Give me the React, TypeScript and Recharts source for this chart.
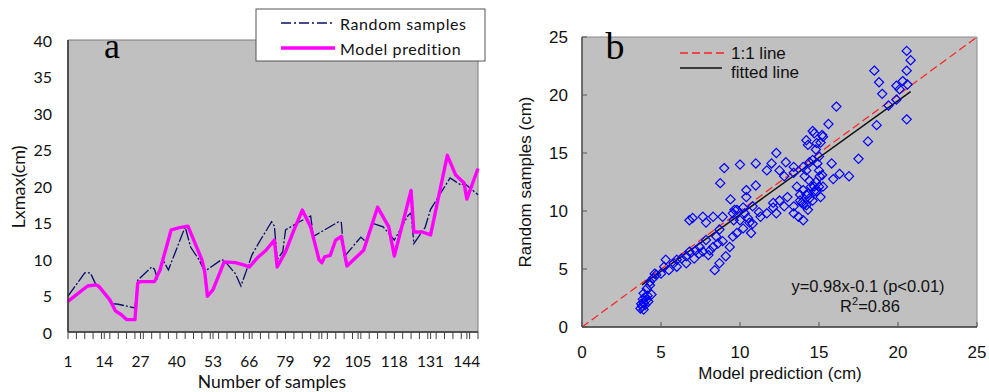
import React from "react"
import {
  LineChart,
  Line,
  XAxis,
  YAxis,
  CartesianGrid,
  ReferenceArea,
  ReferenceLine,
  ScatterChart,
  Scatter,
} from "recharts"

// ---- panel a: Lxmax per sample ----
const randomSamples = [
  { n: 1, v: 4.9 }, { n: 7, v: 8.1 }, { n: 9, v: 8.1 }, { n: 11, v: 6.5 },
  { n: 17, v: 3.9 }, { n: 19, v: 3.8 }, { n: 25, v: 3.3 }, { n: 26, v: 7.1 },
  { n: 31, v: 8.9 }, { n: 32, v: 8.6 }, { n: 33, v: 7.4 }, { n: 35, v: 9.9 },
  { n: 37, v: 8.5 }, { n: 43, v: 14.4 }, { n: 45, v: 11.6 }, { n: 48, v: 9.9 },
  { n: 50, v: 8.3 }, { n: 56, v: 9.9 }, { n: 57, v: 9.8 }, { n: 61, v: 8.0 },
  { n: 63, v: 6.3 }, { n: 67, v: 10.6 }, { n: 70, v: 12.6 }, { n: 74, v: 15.1 },
  { n: 75, v: 14.5 }, { n: 76, v: 9.9 }, { n: 78, v: 11.0 }, { n: 79, v: 14.0 },
  { n: 84, v: 15.1 }, { n: 88, v: 15.9 }, { n: 89, v: 13.1 }, { n: 98, v: 15.1 },
  { n: 99, v: 15.0 }, { n: 100, v: 10.3 }, { n: 106, v: 13.0 }, { n: 108, v: 12.3 },
  { n: 110, v: 14.9 }, { n: 114, v: 14.4 }, { n: 118, v: 12.6 }, { n: 123, v: 16.0 },
  { n: 124, v: 16.3 }, { n: 125, v: 12.1 }, { n: 129, v: 14.3 }, { n: 131, v: 16.8 },
  { n: 138, v: 21.1 }, { n: 140, v: 20.6 }, { n: 142, v: 20.1 }, { n: 143, v: 20.4 },
  { n: 148, v: 18.8 },
]

const modelPrediction = [
  { n: 1, v: 4.2 }, { n: 8, v: 6.3 }, { n: 11, v: 6.45 }, { n: 12, v: 6.3 },
  { n: 16, v: 4.4 }, { n: 18, v: 2.9 }, { n: 20, v: 2.4 }, { n: 22, v: 1.7 },
  { n: 25, v: 1.7 }, { n: 26, v: 6.7 }, { n: 27, v: 6.9 }, { n: 32, v: 6.9 },
  { n: 34, v: 8.5 }, { n: 38, v: 14.0 }, { n: 41, v: 14.3 }, { n: 44, v: 14.5 },
  { n: 49, v: 9.9 }, { n: 50, v: 8.3 }, { n: 51, v: 4.9 }, { n: 53, v: 5.8 },
  { n: 57, v: 9.6 }, { n: 61, v: 9.5 }, { n: 64, v: 9.2 }, { n: 66, v: 8.9 },
  { n: 69, v: 10.2 }, { n: 72, v: 11.2 }, { n: 75, v: 12.6 }, { n: 76, v: 8.9 },
  { n: 79, v: 11.0 }, { n: 82, v: 13.95 }, { n: 85, v: 16.7 }, { n: 88, v: 14.4 },
  { n: 91, v: 9.9 }, { n: 92, v: 9.5 }, { n: 93, v: 10.3 }, { n: 95, v: 10.5 },
  { n: 97, v: 12.6 }, { n: 99, v: 13.1 }, { n: 101, v: 9.05 }, { n: 107, v: 11.2 },
  { n: 112, v: 17.1 }, { n: 116, v: 14.4 }, { n: 118, v: 10.4 }, { n: 124, v: 19.4 },
  { n: 125, v: 13.7 }, { n: 128, v: 13.7 }, { n: 131, v: 13.3 }, { n: 137, v: 24.2 },
  { n: 140, v: 21.5 }, { n: 143, v: 20.4 }, { n: 144, v: 18.2 }, { n: 148, v: 22.4 },
]

const sampleLabels = [1, 14, 27, 40, 53, 66, 79, 92, 105, 118, 131, 144]
const lxTicks = [0, 5, 10, 15, 20, 25, 30, 35, 40]
const minorTicks = Array.from({ length: 50 }, (_, i) => 1 + i * 3)
const sampleTicks = Array.from(new Set([...minorTicks, ...sampleLabels])).sort((a, b) => a - b)

// ---- panel b: model prediction (x) vs random samples (y) ----
const scatterPoints = [
  [3.7, 1.6], [3.8, 1.8], [3.9, 1.5], [3.75, 2.0], [3.9, 2.1], [4.0, 1.9], [3.85, 2.4],
  [4.05, 2.3], [4.2, 2.2], [4.0, 2.6], [4.15, 2.7], [4.4, 2.8], [3.9, 2.9], [4.1, 3.3],
  [4.3, 3.6], [4.3, 3.9], [4.5, 4.2], [4.6, 4.6], [4.7, 4.5],
  [5.2, 5.2], [5.3, 5.8], [5.5, 4.9], [5.8, 5.5], [6.0, 5.2], [6.3, 5.9], [6.6, 5.5],
  [6.6, 6.1], [6.8, 6.5], [7.1, 5.9], [5.0, 4.6], [6.0, 5.8],
  [6.8, 9.2], [7.0, 9.4], [7.65, 9.5], [7.85, 9.0], [8.3, 9.5], [8.9, 9.5], [7.2, 6.6],
  [7.45, 6.9], [7.65, 6.5], [8.1, 6.6], [8.3, 6.9], [8.6, 7.2], [7.85, 7.5], [8.5, 7.8],
  [8.9, 7.4], [9.35, 6.9], [9.1, 6.1], [8.7, 5.5], [8.4, 4.9], [8.7, 8.4], [8.0, 6.2],
  [7.4, 6.3],
  [9.55, 9.8], [9.65, 10.1], [10.0, 9.2], [10.3, 9.8], [10.8, 10.4], [11.2, 9.9],
  [9.55, 7.8], [9.8, 8.1], [10.2, 8.5], [10.5, 9.4], [10.8, 8.9], [10.7, 8.1], [10.6, 9.0],
  [9.6, 9.2], [9.8, 10.1], [10.2, 10.3], [10.4, 11.2], [10.4, 11.8], [9.4, 11.0],
  [8.75, 12.4], [11.0, 12.2], [9.0, 13.7], [10.0, 14.0], [11.0, 14.1], [11.3, 9.5],
  [11.7, 9.8],
  [12.3, 15.0], [12.0, 14.1], [12.9, 14.2], [12.5, 13.5], [12.8, 13.0], [11.7, 13.5],
  [13.4, 13.3], [13.4, 13.8], [12.1, 10.3], [12.3, 9.8], [12.5, 10.9], [13.0, 11.2],
  [12.1, 10.7], [12.8, 10.4], [13.4, 10.4], [13.4, 9.8], [13.7, 9.5], [13.8, 10.9],
  [13.6, 12.1], [13.8, 11.4], [13.9, 10.7],
  [14.2, 10.5], [14.4, 11.1], [14.7, 11.7], [15.0, 12.1], [14.0, 9.2], [14.3, 10.1],
  [14.0, 10.6], [14.6, 10.9], [14.2, 11.4], [14.85, 11.7], [15.25, 12.1], [14.4, 12.6],
  [14.1, 13.0], [15.05, 13.0], [14.0, 13.8], [14.4, 14.2], [14.9, 14.1], [14.2, 16.1],
  [14.85, 15.85], [15.25, 16.4], [14.6, 16.9], [14.7, 16.7], [15.1, 15.9], [14.3, 15.7],
  [14.8, 15.3], [15.0, 14.7], [14.6, 14.4], [14.2, 13.5], [15.0, 13.5], [14.8, 12.5],
  [15.2, 13.1], [15.1, 11.2], [14.5, 12.1], [14.3, 11.5], [14.0, 11.8], [14.7, 12.1],
  [15.6, 17.5], [15.2, 16.55], [15.8, 14.1], [17.5, 14.5], [16.9, 13.0], [16.3, 13.2],
  [15.9, 12.75], [16.1, 19.0], [18.1, 16.0], [18.65, 17.4], [20.55, 17.9], [19.4, 19.1],
  [19.9, 19.6], [19.9, 20.8], [20.3, 21.2], [19.0, 20.1], [18.8, 21.1], [18.5, 22.1],
  [20.55, 22.1], [20.8, 23.0], [20.55, 23.8], [20.1, 20.5], [20.6, 20.9],
].map(([x, y]) => ({ x, y }))

const cmTicks = [0, 5, 10, 15, 20, 25]
const fitSlope = 0.98
const fitIntercept = -0.1
const fitRange = [3.8, 20.8]
const fittedLine = fitRange.map((x) => ({ x, y: fitSlope * x + fitIntercept }))
const oneToOne = [{ x: 0, y: 0 }, { x: 25, y: 25 }]

const calibri = "Lato, 'Open Sans', sans-serif"
const arial = "'Liberation Sans', Arial, sans-serif"
const times = "'Liberation Serif', 'Times New Roman', serif"

const SampleTick = ({ x, y, payload }: any) => (
  <g>
    <line x1={x} y1={y} x2={x} y2={y + 7} stroke="#404040" strokeWidth={1} />
    {sampleLabels.includes(payload.value) && (
      <text x={x} y={y + 35} textAnchor="middle" fontFamily={calibri} fontSize={15.5} fill="#111">
        {payload.value}
      </text>
    )}
  </g>
)

const LxTick = ({ x, y, payload }: any) => (
  <text x={x - 16} y={y} textAnchor="end" dominantBaseline="central" fontFamily={calibri} fontSize={16} fill="#111">
    {payload.value}
  </text>
)

const CmXTick = ({ x, y, payload }: any) => (
  <g>
    <line x1={x} y1={y} x2={x} y2={y - 5} stroke="#555" />
    <text x={x} y={y + 31} textAnchor="middle" fontFamily={arial} fontSize={17} fill="#111">
      {payload.value}
    </text>
  </g>
)

const CmYTick = ({ x, y, payload }: any) => (
  <g>
    <line x1={x} y1={y} x2={x + 5} y2={y} stroke="#555" />
    <text x={x - 14} y={y} textAnchor="end" dominantBaseline="central" fontFamily={arial} fontSize={17} fill="#111">
      {payload.value}
    </text>
  </g>
)

const Diamond = ({ cx, cy }: any) => {
  const r = 4.6
  return (
    <path
      d={`M${cx},${cy - r}L${cx + r},${cy}L${cx},${cy + r}L${cx - r},${cy}Z`}
      fill="none"
      stroke="#0000FF"
      strokeWidth={1.2}
    />
  )
}

function LxmaxPanel() {
  return (
    <LineChart width={500} height={392} margin={{ top: 40, right: 22, bottom: 0, left: 8 }}>
      <CartesianGrid fill="#C0C0C0" horizontal={false} vertical={false} />
      <ReferenceArea x1={1} x2={148} y1={0} y2={40} fill="none" stroke="#7a7a7a" strokeWidth={1} />
      <XAxis
        type="number"
        dataKey="n"
        domain={[1, 148]}
        ticks={sampleTicks}
        interval={0}
        height={60}
        tickSize={0}
        tickMargin={0}
        tick={<SampleTick />}
        tickLine={false}
        axisLine={{ stroke: "#333", strokeWidth: 1.5 }}
      />
      <YAxis
        type="number"
        domain={[0, 40]}
        ticks={lxTicks}
        width={60}
        tickSize={0}
        tickMargin={0}
        tick={<LxTick />}
        tickLine={false}
        axisLine={{ stroke: "#333", strokeWidth: 1.5 }}
      />
      <Line
        data={randomSamples}
        dataKey="v"
        type="linear"
        stroke="#0A0A6E"
        strokeWidth={1.3}
        strokeDasharray="12 2 2 2"
        dot={false}
        isAnimationActive={false}
      />
      <Line
        data={modelPrediction}
        dataKey="v"
        type="linear"
        stroke="#FF00FF"
        strokeWidth={3.4}
        strokeLinejoin="round"
        dot={false}
        isAnimationActive={false}
      />
    </LineChart>
  )
}

function ScatterPanel() {
  return (
    <ScatterChart width={489} height={392} margin={{ top: 37, right: 12, bottom: 0, left: 22 }}>
      <CartesianGrid fill="#C0C0C0" horizontal={false} vertical={false} />
      <ReferenceArea x1={0} x2={25} y1={0} y2={25} fill="none" stroke="#8a8a8a" strokeWidth={1} />
      <XAxis
        type="number"
        dataKey="x"
        domain={[0, 25]}
        ticks={cmTicks}
        interval={0}
        height={65}
        tickSize={0}
        tickMargin={0}
        tick={<CmXTick />}
        tickLine={false}
        axisLine={{ stroke: "#444", strokeWidth: 1.3 }}
      />
      <YAxis
        type="number"
        dataKey="y"
        domain={[0, 25]}
        ticks={cmTicks}
        interval={0}
        width={60}
        tickSize={0}
        tickMargin={0}
        tick={<CmYTick />}
        tickLine={false}
        axisLine={{ stroke: "#444", strokeWidth: 1.3 }}
      />
      <ReferenceLine
        segment={oneToOne}
        stroke="#FF2020"
        strokeWidth={1.2}
        strokeDasharray="8 4"
        ifOverflow="visible"
      />
      <Scatter data={scatterPoints} shape={<Diamond />} isAnimationActive={false} />
      <ReferenceLine segment={fittedLine} stroke="#111" strokeWidth={1.5} ifOverflow="visible" />
    </ScatterChart>
  )
}

export default function App() {
  return (
    <div style={{ position: "absolute", left: 0, top: 0, width: 989, height: 392, background: "#fff" }}>
      <div style={{ position: "absolute", left: 0, top: 0 }}>
        <LxmaxPanel />
      </div>
      <div style={{ position: "absolute", left: 500, top: 0 }}>
        <ScatterPanel />
      </div>
      <svg
        width={989}
        height={392}
        style={{ position: "absolute", left: 0, top: 0, pointerEvents: "none" }}
      >
        {/* panel a titles */}
        <text x={112} y={58} textAnchor="middle" fontFamily={times} fontSize={36} fill="#000">a</text>
        <text
          x={18}
          y={187}
          transform="rotate(-90 18 187)"
          textAnchor="middle"
          dominantBaseline="central"
          fontFamily={calibri}
          fontSize={18}
          fill="#111"
        >
          Lxmax(cm)
        </text>
        <text x={272} y={388} textAnchor="middle" fontFamily={calibri} fontSize={17.5} fill="#111">
          Number of samples
        </text>

        {/* panel a legend */}
        <rect x={256} y={9} width={229} height={52} fill="#fff" stroke="#555" strokeWidth={1} />
        <line x1={281} y1={23} x2={335} y2={23} stroke="#0A0A6E" strokeWidth={1.3} strokeDasharray="10 3 2 3" />
        <text x={340} y={23} dominantBaseline="central" fontFamily={calibri} fontSize={16} letterSpacing={0.6} fill="#111">
          Random samples
        </text>
        <line x1={281} y1={48} x2={335} y2={48} stroke="#FF00FF" strokeWidth={3.4} />
        <text x={340} y={48} dominantBaseline="central" fontFamily={calibri} fontSize={16} letterSpacing={0.6} fill="#111">
          Model predition
        </text>

        {/* panel b titles */}
        <text x={615} y={59} textAnchor="middle" fontFamily={times} fontSize={38} fill="#000">b</text>
        <text
          x={525}
          y={182}
          transform="rotate(-90 525 182)"
          textAnchor="middle"
          dominantBaseline="central"
          fontFamily={arial}
          fontSize={17}
          fill="#111"
        >
          Random samples (cm)
        </text>
        <text x={780} y={379} textAnchor="middle" fontFamily={arial} fontSize={17} fill="#111">
          Model prediction (cm)
        </text>

        {/* panel b legend */}
        <line x1={680} y1={53} x2={727} y2={53} stroke="#FF2020" strokeWidth={1.3} strokeDasharray="8 4" />
        <text x={731} y={59} fontFamily={arial} fontSize={17} fill="#111">1:1 line</text>
        <line x1={680} y1={68} x2={722} y2={68} stroke="#111" strokeWidth={1.5} />
        <text x={731} y={78} fontFamily={arial} fontSize={17} fill="#111">fitted line</text>

        {/* regression annotation */}
        <text x={868} y={292} textAnchor="middle" fontFamily={arial} fontSize={16.5} fill="#111">
          y=0.98x-0.1 (p&lt;0.01)
        </text>
        <text x={870} y={312} textAnchor="middle" fontFamily={arial} fontSize={16.5} fill="#111">
          R<tspan fontSize={11} dy={-7}>2</tspan><tspan dy={7}>=0.86</tspan>
        </text>
      </svg>
    </div>
  )
}
